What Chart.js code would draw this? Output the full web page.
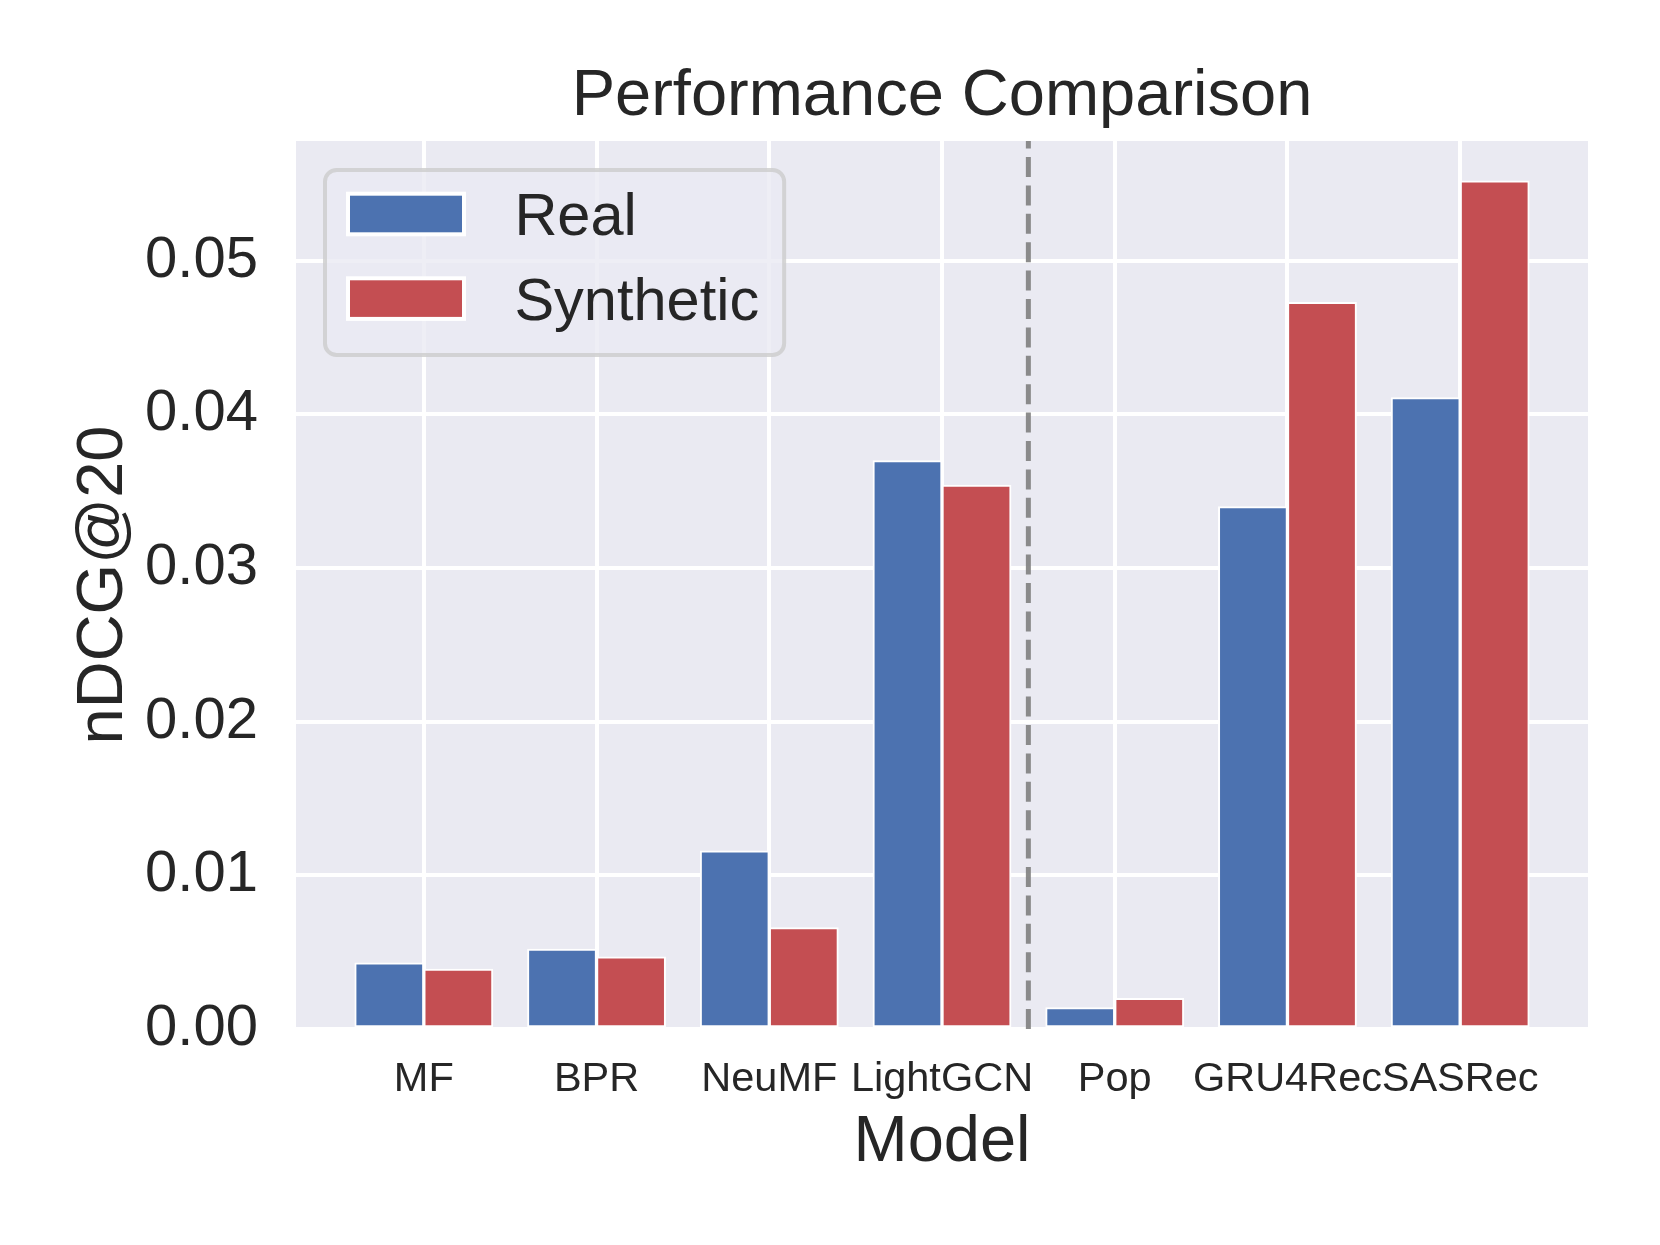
<!DOCTYPE html>
<html>
<head>
<meta charset="utf-8">
<script src="https://cdn.jsdelivr.net/npm/chart.js@4.4.1/dist/chart.umd.min.js"></script>
<style>
  html, body { margin: 0; padding: 0; background: #ffffff; }
  #wrap { width: 1660px; height: 1245px; position: relative; }
</style>
</head>
<body>
<div id="wrap"><canvas id="chart"></canvas></div>
<script>
// data
const categories = ['MF', 'BPR', 'NeuMF', 'LightGCN', 'Pop', 'GRU4Rec', 'SASRec'];
const realValues = [0.0043, 0.0052, 0.0116, 0.0370, 0.0014, 0.0340, 0.0411];
const syntheticValues = [0.0039, 0.0047, 0.0066, 0.0354, 0.0020, 0.0473, 0.0552];
const yTicks = [0, 0.01, 0.02, 0.03, 0.04, 0.05];
const yMax = 0.0578;
const separatorAt = 3.5; // between LightGCN and Pop
const barOffset = 0.2;   // each bar sits half a bar width from the tick

const FONT = "'Liberation Sans', Arial, Helvetica, sans-serif";
const TEXT = '#262626';

// background of the axes (seaborn darkgrid)
const backgroundPlugin = {
    id: 'axesBackground',
    beforeDraw(chart) {
        const { ctx, chartArea: a } = chart;
        ctx.save();
        ctx.fillStyle = '#ffffff';
        ctx.fillRect(0, 0, chart.width, chart.height);
        ctx.fillStyle = '#EAEAF2';
        ctx.fillRect(a.left, a.top, a.right - a.left, a.bottom - a.top);
        ctx.restore();
    }
};

// dashed vertical separator
const separatorPlugin = {
    id: 'separator',
    afterDatasetsDraw(chart) {
        const { ctx, chartArea: a } = chart;
        const x = chart.scales.x.getPixelForValue(separatorAt);
        ctx.save();
        ctx.beginPath();
        ctx.rect(a.left, a.top, a.right - a.left, a.bottom - a.top);
        ctx.clip();
        ctx.strokeStyle = 'rgba(128,128,128,0.9)';
        ctx.lineWidth = 5;
        ctx.setLineDash([20, 8.4]);
        ctx.beginPath();
        ctx.moveTo(x, a.bottom);
        ctx.lineTo(x, a.top);
        ctx.stroke();
        ctx.restore();
    }
};

// matplotlib-style legend box in the upper left
const boxLegendPlugin = {
    id: 'boxLegend',
    afterDatasetsDraw(chart) {
        const { ctx, chartArea: a } = chart;
        const fs = 58;
        const textSize = 59.5;
        const x0 = a.left + 0.5 * fs;
        const y0 = a.top + 0.5 * fs;
        const patchX = x0 + 23;
        const patchW = 2.0 * fs;
        const patchH = 0.7 * fs;
        const textX = patchX + patchW + 0.8 * fs + 4;
        const rowY = [y0 + 44, y0 + 128.6];

        ctx.save();
        ctx.font = textSize + 'px ' + FONT;
        let maxW = 0;
        chart.data.datasets.forEach(ds => {
            maxW = Math.max(maxW, ctx.measureText(ds.label).width);
        });
        const x1 = textX + maxW + 25;
        const y1 = y0 + 185;
        const r = 0.2 * fs;

        ctx.beginPath();
        ctx.roundRect(x0, y0, x1 - x0, y1 - y0, r);
        ctx.fillStyle = 'rgba(234,234,242,0.8)';
        ctx.fill();
        ctx.lineWidth = 4;
        ctx.strokeStyle = 'rgba(204,204,204,0.8)';
        ctx.stroke();

        chart.data.datasets.forEach((ds, i) => {
            const cy = rowY[i];
            ctx.fillStyle = ds.backgroundColor;
            ctx.fillRect(patchX, cy - patchH / 2, patchW, patchH);
            ctx.lineWidth = 4;
            ctx.strokeStyle = '#ffffff';
            ctx.strokeRect(patchX, cy - patchH / 2, patchW, patchH);
            ctx.fillStyle = TEXT;
            ctx.textAlign = 'left';
            ctx.textBaseline = 'alphabetic';
            ctx.fillText(ds.label, textX, cy + 0.358 * textSize);
        });
        ctx.restore();
    }
};

const ctx = document.getElementById('chart').getContext('2d');
new Chart(ctx, {
    type: 'bar',
    data: {
        datasets: [
            {
                label: 'Real',
                data: realValues.map((v, i) => ({ x: i - barOffset, y: v })),
                backgroundColor: '#4C72B0',
                borderColor: '#ffffff',
                borderWidth: 2,
                borderSkipped: false
            },
            {
                label: 'Synthetic',
                data: syntheticValues.map((v, i) => ({ x: i + barOffset, y: v })),
                backgroundColor: '#C44E52',
                borderColor: '#ffffff',
                borderWidth: 2,
                borderSkipped: false
            }
        ]
    },
    options: {
        responsive: true,
        maintainAspectRatio: false,
        devicePixelRatio: 1,
        animation: false,
        events: [],
        grouped: false,
        barPercentage: 1,
        categoryPercentage: 1,
        layout: { padding: { left: 0, right: 72, top: 0, bottom: 0 } },
        plugins: {
            legend: { display: false },
            tooltip: { enabled: false },
            title: {
                display: true,
                text: 'Performance Comparison',
                fullSize: false,
                color: TEXT,
                font: { family: FONT, size: 65, weight: 'normal', lineHeight: 1.2 },
                padding: { top: 58.5, bottom: 4.5 }
            }
        },
        scales: {
            x: {
                type: 'linear',
                min: -0.74,
                max: 6.74,
                offset: false,
                afterBuildTicks(scale) {
                    scale.ticks = categories.map((c, i) => ({ value: i }));
                },
                afterFit(scale) { scale.height = 216; },
                ticks: {
                    autoSkip: false,
                    maxRotation: 0,
                    padding: 25.5,
                    color: TEXT,
                    font: { family: FONT, size: 41.5 },
                    callback: (v) => categories[v]
                },
                grid: { color: '#ffffff', lineWidth: 4, drawTicks: false, offset: false },
                border: { display: false },
                title: {
                    display: true,
                    text: 'Model',
                    color: TEXT,
                    font: { family: FONT, size: 65, lineHeight: 1.2 },
                    padding: { top: 0, bottom: 62.5 }
                }
            },
            y: {
                min: 0,
                max: yMax,
                afterBuildTicks(scale) {
                    scale.ticks = yTicks.map(v => ({ value: v }));
                },
                afterFit(scale) { scale.width = 296; },
                ticks: {
                    padding: 38,
                    color: TEXT,
                    font: { family: FONT, size: 58 },
                    callback: (v) => Number(v).toFixed(2)
                },
                grid: { color: '#ffffff', lineWidth: 4, drawTicks: false },
                border: { display: false },
                title: {
                    display: true,
                    text: 'nDCG@20',
                    color: TEXT,
                    font: { family: FONT, size: 65, lineHeight: 1.2 },
                    padding: { top: 65, bottom: 0 }
                }
            }
        }
    },
    plugins: [backgroundPlugin, separatorPlugin, boxLegendPlugin]
});
</script>
</body>
</html>
